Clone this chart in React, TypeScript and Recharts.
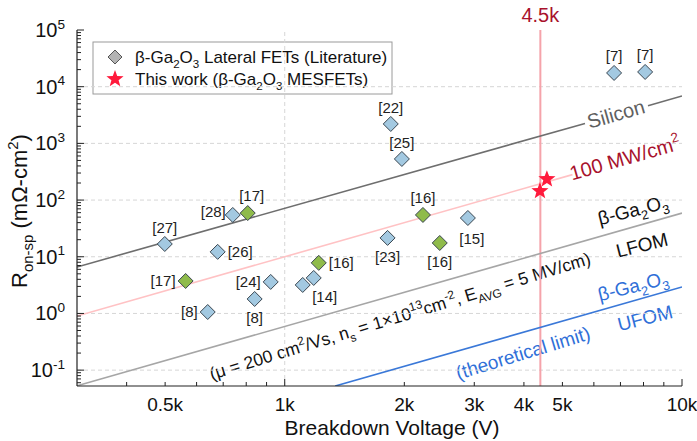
import {
  ComposedChart,
  Customized,
  Line,
  ReferenceLine,
  Scatter,
  XAxis,
  YAxis,
} from 'recharts';

// literature lateral FETs
const litVoltage = [740, 807, 499, 678, 563, 640, 922, 840, 1110, 1183, 1218, 1849, 1972, 6746, 8076, 2228, 2891, 1815, 2456];
const litRon = [54.6, 59, 16.8, 12.2, 3.74, 1.06, 3.6, 1.8, 3.18, 4.23, 7.8, 2200, 531, 17470, 18190, 54.6, 48.3, 21.5, 17.5];
const litRef = ['[28]', '[17]', '[27]', '[26]', '[17]', '[8]', '[24]', '[8]', '', '[14]', '[16]', '[22]', '[25]', '[7]', '[7]', '[16]', '[15]', '[23]', '[16]'];
const litGroup = ['b', 'g', 'b', 'b', 'g', 'b', 'b', 'b', 'b', 'b', 'g', 'b', 'b', 'b', 'b', 'g', 'b', 'b', 'g'];

// this work
const workVoltage = [4390, 4570];
const workRon = [144, 234];

// limit lines (end points); silicon is broken where its label sits
const siliconV = [300, 5700];
const siliconR = [6.6, 2250];
const siliconTailV = [8210, 10000];
const siliconTailR = [4620, 6850];
const powerV = [300, 5300];
const powerR = [0.9, 281];
const lfomV = [300, 10000];
const lfomR = [0.053, 59];
const ufomV = [1340, 10000];
const ufomR = [0.0525, 2.93];

const breakdownMark = 4400;

// axes
const xTicks = [400, 500, 600, 700, 800, 900, 1000, 2000, 3000, 4000, 5000, 6000, 7000, 8000, 9000, 10000];
const xLabelTicks = [500, 1000, 2000, 3000, 4000, 5000, 10000];
const xLabelText = ['0.5k', '1k', '2k', '3k', '4k', '5k', '10k'];
const yDecades = [0.01, 0.1, 1, 10, 100, 1000, 10000, 100000];
const yMult = [1, 2, 3, 4, 5, 6, 7, 8, 9];
const yDomain = [0.0525, 100000];
const xDomain = [300, 10000];

const yTicks = yDecades
  .flatMap((d) => yMult.map((m) => +(d * m).toPrecision(6)))
  .filter((v) => v >= yDomain[0] && v <= yDomain[1]);

const litLabel: [number, number, 'start' | 'middle' | 'end'][] = [
  [-7, 2, 'end'],
  [4, -12, 'middle'],
  [0, -11, 'middle'],
  [10, 5, 'start'],
  [-10, 5, 'end'],
  [-10, 5, 'end'],
  [-10, 5, 'end'],
  [0, 24, 'middle'],
  [0, 0, 'middle'],
  [11, 24, 'middle'],
  [10, 5, 'start'],
  [0, -11, 'middle'],
  [0, -11, 'middle'],
  [0, -12, 'middle'],
  [0, -12, 'middle'],
  [0, -12, 'middle'],
  [4, 26, 'middle'],
  [0, 24, 'middle'],
  [0, 24, 'middle'],
];

const pts = (vs: number[], rs: number[]) => vs.map((v, i) => ({ v, r: rs[i] }));
const litData = litVoltage.map((v, i) => ({ v, r: litRon[i], ref: litRef[i], group: litGroup[i], i }));
const workData = pts(workVoltage, workRon);

const axisColor = '#222';
const isDecade = (v: number) => Math.abs(Math.log10(v) - Math.round(Math.log10(v))) < 1e-6;

type Seg = { t: string; s?: 'sub' | 'sup' };

function rich(segs: Seg[], fs: number) {
  let shift = 0;
  return segs.map((seg, k) => {
    const target = seg.s === 'sub' ? 0.28 * fs : seg.s === 'sup' ? -0.42 * fs : 0;
    const dy = target - shift;
    shift = target;
    return (
      <tspan key={k} dy={dy} fontSize={seg.s ? fs * 0.68 : fs}>
        {seg.t}
      </tspan>
    );
  });
}

const gaO: Seg[] = [{ t: 'β-Ga' }, { t: '2', s: 'sub' }, { t: 'O' }, { t: '3', s: 'sub' }];

function Note({ x, y, angle, fs, fill, segs }: { x: number; y: number; angle: number; fs: number; fill: string; segs: Seg[] }) {
  return (
    <text
      x={x}
      y={y + fs * 0.35}
      textAnchor="middle"
      fontSize={fs}
      fill={fill}
      transform={`rotate(${angle} ${x} ${y})`}
    >
      {rich(segs, fs)}
    </text>
  );
}

function starPoints(cx: number, cy: number, R: number) {
  const out: string[] = [];
  for (let k = 0; k < 10; k++) {
    const rr = k % 2 === 0 ? R : R * 0.42;
    const a = -Math.PI / 2 + (k * Math.PI) / 5;
    out.push(`${cx + rr * Math.cos(a)},${cy + rr * Math.sin(a)}`);
  }
  return out.join(' ');
}

const Diamond = (p: any) => {
  const { cx, cy, payload } = p;
  const s = 7.5;
  const [dx, dy, anchor] = litLabel[payload.i];
  return (
    <g>
      <polygon
        points={`${cx},${cy - s} ${cx + s},${cy} ${cx},${cy + s} ${cx - s},${cy}`}
        fill={payload.group === 'g' ? '#8fbb4b' : '#a3c9e1'}
        stroke="#3a4650"
        strokeWidth={1}
      />
      {payload.ref && (
        <text x={cx + dx} y={cy + dy} textAnchor={anchor} fontSize={15} fill="#222">
          {payload.ref}
        </text>
      )}
    </g>
  );
};

const Star = (p: any) => <polygon points={starPoints(p.cx, p.cy, 9)} fill="#ff1a3c" />;

const XTickBottom = (p: any) => {
  const { x, y, payload } = p;
  const v = payload.value;
  const len = isDecade(v) ? 7 : 4;
  const li = xLabelTicks.indexOf(v);
  return (
    <g>
      <line x1={x} y1={y} x2={x} y2={y - len} stroke={axisColor} />
      {li >= 0 && (
        <text x={x} y={y + 25} textAnchor="middle" fontSize={19} fill="#111">
          {xLabelText[li]}
        </text>
      )}
    </g>
  );
};

const XTickTop = (p: any) => {
  const { x, y, payload } = p;
  const len = isDecade(payload.value) ? 7 : 4;
  return <line x1={x} y1={y} x2={x} y2={y + len} stroke={axisColor} />;
};

const YTickLeft = (p: any) => {
  const { x, y, payload } = p;
  const v = payload.value;
  const dec = isDecade(v);
  return (
    <g>
      <line x1={x} y1={y} x2={x + (dec ? 7 : 4)} y2={y} stroke={axisColor} />
      {dec && (
        <text x={x - 12} y={y + 7} textAnchor="end" fontSize={20} fill="#111">
          {rich([{ t: '10' }, { t: String(Math.round(Math.log10(v))), s: 'sup' }], 20)}
        </text>
      )}
    </g>
  );
};

const YTickRight = (p: any) => {
  const { x, y, payload } = p;
  const len = isDecade(payload.value) ? 7 : 4;
  return <line x1={x} y1={y} x2={x - len} y2={y} stroke={axisColor} />;
};

const Annotations = () => (
  <g>
    <text transform="translate(27 211) rotate(-90)" textAnchor="middle" fontSize={22} fill="#111">
      {rich([{ t: 'R' }, { t: 'on-sp', s: 'sub' }, { t: ' (mΩ-cm' }, { t: '2', s: 'sup' }, { t: ')' }], 22)}
    </text>
    <text x={392} y={435} textAnchor="middle" fontSize={21} fill="#111">
      Breakdown Voltage (V)
    </text>

    <Note x={616} y={114} angle={-16} fs={20} fill="#606060" segs={[{ t: 'Silicon' }]} />
    <Note x={625} y={158} angle={-16} fs={20} fill="#a8122c" segs={[{ t: '100 MW/cm' }, { t: '2', s: 'sup' }]} />
    <Note x={633} y={210} angle={-14} fs={19} fill="#111" segs={gaO} />
    <Note x={642} y={245} angle={-14} fs={19} fill="#111" segs={[{ t: 'LFOM' }]} />
    <Note x={633} y={286} angle={-14} fs={19} fill="#2f6fd8" segs={gaO} />
    <Note x={645} y={318} angle={-14} fs={19} fill="#2f6fd8" segs={[{ t: 'UFOM' }]} />
    <Note x={523} y={353} angle={-17} fs={19} fill="#2f6fd8" segs={[{ t: '(theoretical limit)' }]} />
    <Note
      x={400}
      y={316}
      angle={-17}
      fs={17.5}
      fill="#111"
      segs={[
        { t: '(μ = 200 cm' },
        { t: '2', s: 'sup' },
        { t: '/Vs, n' },
        { t: 's', s: 'sub' },
        { t: ' = 1×10' },
        { t: '13', s: 'sup' },
        { t: 'cm' },
        { t: '-2', s: 'sup' },
        { t: ', E' },
        { t: 'AVG', s: 'sub' },
        { t: ' = 5 MV/cm)' },
      ]}
    />

    {/* legend */}
    <rect x={93} y={42} width={299} height={52} fill="#fff" stroke="#9a9a9a" strokeWidth={1} />
    <polygon points="115,50 122,57 115,64 108,57" fill="#b4b4b4" stroke="#555" strokeWidth={1} />
    <text x={135} y={63} fontSize={17} fill="#111">
      {rich([...gaO, { t: ' Lateral FETs (Literature)' }], 17)}
    </text>
    <polygon points={starPoints(115, 79, 9)} fill="#ff1a3c" />
    <text x={135} y={85} fontSize={17} fill="#111">
      {rich([{ t: 'This work (' }, ...gaO, { t: ' MESFETs)' }], 17)}
    </text>
  </g>
);

export default function App() {
  return (
    <div style={{ position: 'absolute', left: 0, top: 0, background: '#fff', fontFamily: '"Liberation Sans", Arial, sans-serif' }}>
      <ComposedChart width={697} height={441} margin={{ top: 30, right: 15, bottom: 0, left: 0 }}>
        <XAxis
          dataKey="v"
          type="number"
          scale="log"
          domain={xDomain}
          allowDataOverflow
          ticks={xTicks}
          interval={0}
          height={55}
          tickSize={0}
          tickMargin={0}
          tickLine={false}
          tick={XTickBottom}
          axisLine={{ stroke: axisColor, strokeWidth: 1.2 }}
        />
        <XAxis
          xAxisId="top"
          orientation="top"
          dataKey="v"
          type="number"
          scale="log"
          domain={xDomain}
          allowDataOverflow
          ticks={xTicks}
          interval={0}
          height={0}
          tickSize={0}
          tickMargin={0}
          tickLine={false}
          tick={XTickTop}
          axisLine={{ stroke: axisColor, strokeWidth: 1.2 }}
        />
        <YAxis
          dataKey="r"
          type="number"
          scale="log"
          domain={yDomain}
          allowDataOverflow
          ticks={yTicks}
          interval={0}
          width={77}
          tickSize={0}
          tickMargin={0}
          tickLine={false}
          tick={YTickLeft}
          axisLine={{ stroke: axisColor, strokeWidth: 1.2 }}
        />
        <YAxis
          yAxisId="right"
          orientation="right"
          dataKey="r"
          type="number"
          scale="log"
          domain={yDomain}
          allowDataOverflow
          ticks={yTicks}
          interval={0}
          width={0}
          tickSize={0}
          tickMargin={0}
          tickLine={false}
          tick={YTickRight}
          axisLine={{ stroke: axisColor, strokeWidth: 1.2 }}
        />

        {yDecades.slice(1, 7).map((d) => (
          <ReferenceLine key={d} y={d} stroke="#d6d6d6" strokeDasharray="4 3" />
        ))}
        <ReferenceLine x={1000} stroke="#d6d6d6" strokeDasharray="4 3" />
        <ReferenceLine
          x={breakdownMark}
          stroke="#f5a3aa"
          strokeWidth={2}
          label={{ value: '4.5k', position: 'top', fill: '#a8122c', fontSize: 20, offset: 8 }}
        />

        <Line data={pts(siliconV, siliconR)} dataKey="r" stroke="#6e6e6e" strokeWidth={1.6} dot={false} isAnimationActive={false} />
        <Line data={pts(siliconTailV, siliconTailR)} dataKey="r" stroke="#6e6e6e" strokeWidth={1.6} dot={false} isAnimationActive={false} />
        <Line data={pts(powerV, powerR)} dataKey="r" stroke="#ffc2c4" strokeWidth={1.6} dot={false} isAnimationActive={false} />
        <Line data={pts(lfomV, lfomR)} dataKey="r" stroke="#a6a6a6" strokeWidth={1.6} dot={false} isAnimationActive={false} />
        <Line data={pts(ufomV, ufomR)} dataKey="r" stroke="#3a78d8" strokeWidth={1.6} dot={false} isAnimationActive={false} />

        <Scatter data={litData} dataKey="r" shape={Diamond} isAnimationActive={false} />
        <Scatter data={workData} dataKey="r" shape={Star} isAnimationActive={false} />

        <Customized component={Annotations} />
      </ComposedChart>
    </div>
  );
}
